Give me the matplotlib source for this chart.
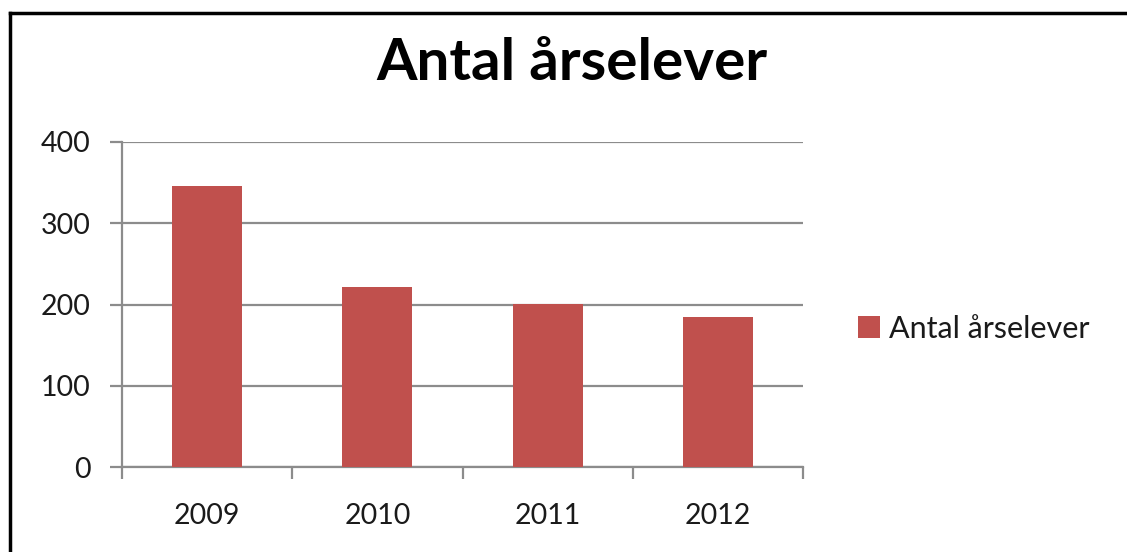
import matplotlib
matplotlib.use("Agg")
import matplotlib.pyplot as plt
from matplotlib.lines import Line2D
import numpy as np

years = ["2009", "2010", "2011", "2012"]
students = [345, 221, 201, 185]
series_name = "Antal årselever"
title = "Antal årselever"
y_ticks = [0, 100, 200, 300, 400]

plt.rcParams['font.family'] = ['Lato', 'DejaVu Sans']

W, H = 1127, 552
fig = plt.figure(figsize=(W / 100, H / 100), dpi=100)
ax = fig.add_axes([122 / W, 1 - 467.3 / H, (803 - 122) / W, (467.3 - 141.7) / H])

grid_c = '#8c8c8c'
x = np.arange(len(years))
ax.bar(x, students, width=0.41, color='#C0504D', label=series_name, zorder=3)

ax.set_xlim(-0.5, len(years) - 0.5)
ax.set_ylim(0, 400)
ax.set_yticks(y_ticks)
ax.set_yticklabels([str(v) for v in y_ticks])
ax.set_xticks(x)
ax.set_xticklabels(years)
ax.set_xticks(np.arange(-0.5, len(years)), minor=True)

ax.yaxis.grid(True, color=grid_c, linewidth=1.6, zorder=0)
for s in ['top', 'right']:
    ax.spines[s].set_visible(False)
for s in ['left', 'bottom']:
    ax.spines[s].set_color(grid_c)
    ax.spines[s].set_linewidth(1.6)

ax.tick_params(axis='y', length=8.5, width=1.6, color=grid_c, pad=14,
               labelsize=20.5, labelcolor='#1a1a1a')
ax.tick_params(axis='x', which='major', length=0, pad=26,
               labelsize=20.5, labelcolor='#1a1a1a')
ax.tick_params(axis='x', which='minor', length=8.5, width=1.6, color=grid_c)

fig.text(572 / W, 1 - 80 / H, title, ha='center', va='baseline',
         fontsize=42, fontweight='bold', color='#000000')

ax.legend(loc='center left', bbox_to_anchor=(858 / W, 1 - 329 / H),
          bbox_transform=fig.transFigure, frameon=False, fontsize=22,
          handlelength=0.72, handleheight=0.72, handletextpad=0.3,
          borderpad=0, borderaxespad=0, labelcolor='#1a1a1a')

# outer chart frame (top and left edges visible)
fig.add_artist(Line2D([10 / W, 1], [1 - 13 / H, 1 - 13 / H], color='black',
                      linewidth=2.5, transform=fig.transFigure))
fig.add_artist(Line2D([10 / W, 10 / W], [0, 1 - 13 / H], color='black',
                      linewidth=2.5, transform=fig.transFigure))

fig.savefig("out.png", dpi=100)
